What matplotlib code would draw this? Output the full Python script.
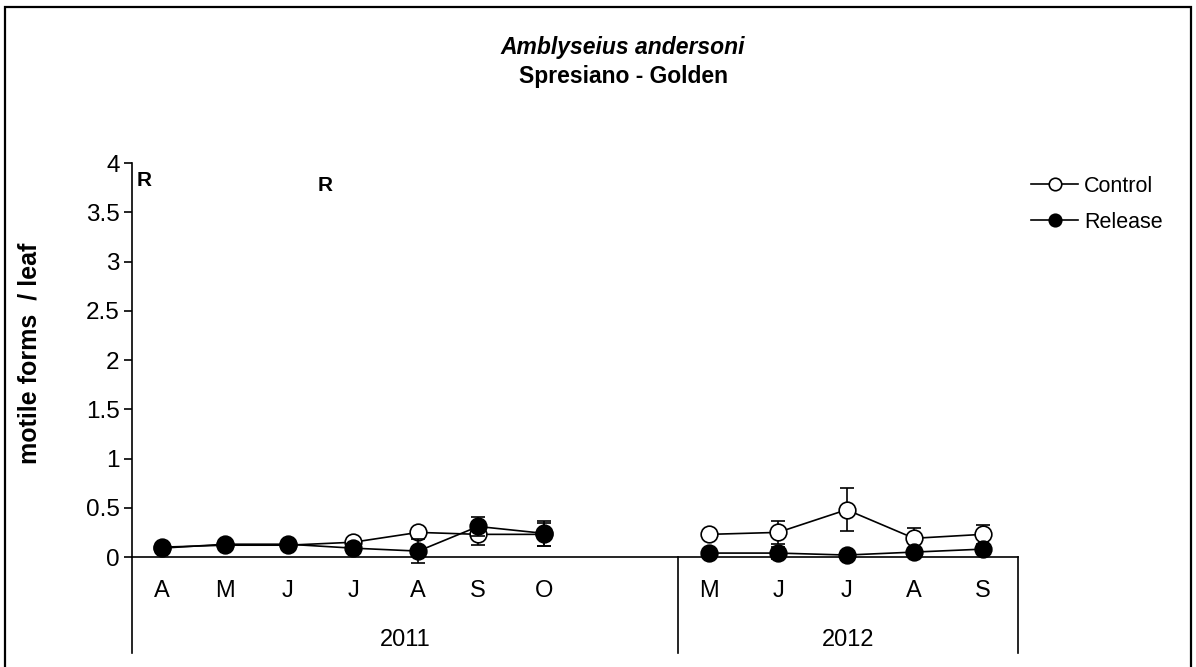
import matplotlib
matplotlib.use("Agg")
from matplotlib import pyplot as plt
from matplotlib.lines import Line2D
from matplotlib.patches import Rectangle

plt.rcParams['font.family'] = ['Liberation Sans', 'DejaVu Sans']

# sampling positions (category slots) and month labels
x_2011 = [0.44, 1.37, 2.29, 3.25, 4.21, 5.09, 6.06]
x_2012 = [8.49, 9.50, 10.51, 11.50, 12.51]
months_2011 = ['A', 'M', 'J', 'J', 'A', 'S', 'O']
months_2012 = ['M', 'J', 'J', 'A', 'S']
years = ['2011', '2012']
year_bounds = [0.0, 8.03, 13.03]

# mean motile forms / leaf and standard errors
control_2011 = [0.10, 0.12, 0.12, 0.15, 0.25, 0.23, 0.23]
control_2011_err = [0.02, 0.02, 0.02, 0.03, 0.04, 0.11, 0.12]
release_2011 = [0.09, 0.13, 0.13, 0.09, 0.06, 0.31, 0.24]
release_2011_err = [0.02, 0.02, 0.02, 0.04, 0.12, 0.10, 0.13]
control_2012 = [0.23, 0.25, 0.48, 0.19, 0.23]
control_2012_err = [0.03, 0.12, 0.22, 0.10, 0.10]
release_2012 = [0.04, 0.04, 0.02, 0.05, 0.08]
release_2012_err = [0.01, 0.06, 0.01, 0.02, 0.02]

# release dates ("R" marks)
release_x = [0.18, 2.84]
release_y = [3.82, 3.77]

fig = plt.figure(figsize=(11.96, 6.67), dpi=100)
ax = fig.add_axes([0.1104, 0.1649, 0.7408, 0.5907])

st = dict(fmt='-o', color='black', ms=12, mew=1.2, lw=1.2, elinewidth=1.2,
          capsize=5, capthick=1.2, clip_on=False, mec='black')
for xs, ys, es in [(x_2011, control_2011, control_2011_err),
                   (x_2012, control_2012, control_2012_err)]:
    ax.errorbar(xs, ys, yerr=es, mfc='white', zorder=3, **st)
for xs, ys, es in [(x_2011, release_2011, release_2011_err),
                   (x_2012, release_2012, release_2012_err)]:
    ax.errorbar(xs, ys, yerr=es, mfc='black', zorder=4, **st)

ax.set_xlim(year_bounds[0], year_bounds[-1])
ax.set_ylim(0, 4)
ax.set_yticks([0, 0.5, 1, 1.5, 2, 2.5, 3, 3.5, 4])
ax.set_yticklabels(['0', '0.5', '1', '1.5', '2', '2.5', '3', '3.5', '4'])
ax.tick_params(axis='y', direction='out', length=6, width=1.2, labelsize=17.5, pad=3)
ax.set_xticks([])
for s in ['top', 'right']:
    ax.spines[s].set_visible(False)
ax.spines['left'].set_linewidth(1.2)
ax.spines['bottom'].set_linewidth(1.2)

# category table under the axis
tr = ax.get_xaxis_transform()
for xb in year_bounds:
    ax.plot([xb, xb], [0, -0.2437], transform=tr, color='black', lw=1.2, clip_on=False)
for xs, labs in [(x_2011, months_2011), (x_2012, months_2012)]:
    for xv, lab in zip(xs, labs):
        ax.text(xv, -0.0863, lab, transform=tr, ha='center', va='center', fontsize=17)
for i, yr in enumerate(years):
    xc = (year_bounds[i] + year_bounds[i + 1]) / 2
    ax.text(xc, -0.2107, yr, transform=tr, ha='center', va='center', fontsize=17)

for xv, yv in zip(release_x, release_y):
    ax.text(xv, yv, 'R', ha='center', va='center', fontsize=15, fontweight='bold')

handles = [Line2D([], [], color='black', lw=1.2, marker='o', ms=9, mfc='white', mec='black', mew=1.2),
           Line2D([], [], color='black', lw=1.2, marker='o', ms=9, mfc='black', mec='black', mew=1.2)]
ax.legend(handles, ['Control', 'Release'], loc='upper left', bbox_to_anchor=(1.005, 0.99),
          frameon=False, fontsize=15.5, handlelength=2.2, handletextpad=0.25,
          labelspacing=0.7, borderaxespad=0)

fig.text(0.521, 0.9295, 'Amblyseius andersoni', ha='center', va='center',
         fontsize=16.5, fontweight='bold', fontstyle='italic')
fig.text(0.521, 0.8846, 'Spresiano - Golden', ha='center', va='center',
         fontsize=16.5, fontweight='bold')
fig.text(0.025, 0.4708, 'motile forms  / leaf', rotation=90, ha='center', va='center',
         fontsize=18, fontweight='bold')

fig.patches.append(Rectangle((0.0042, -0.02), 0.9916, 1.0095,
                             transform=fig.transFigure, fill=False, ec='black', lw=1.6))

fig.savefig('out.png', dpi=100)
